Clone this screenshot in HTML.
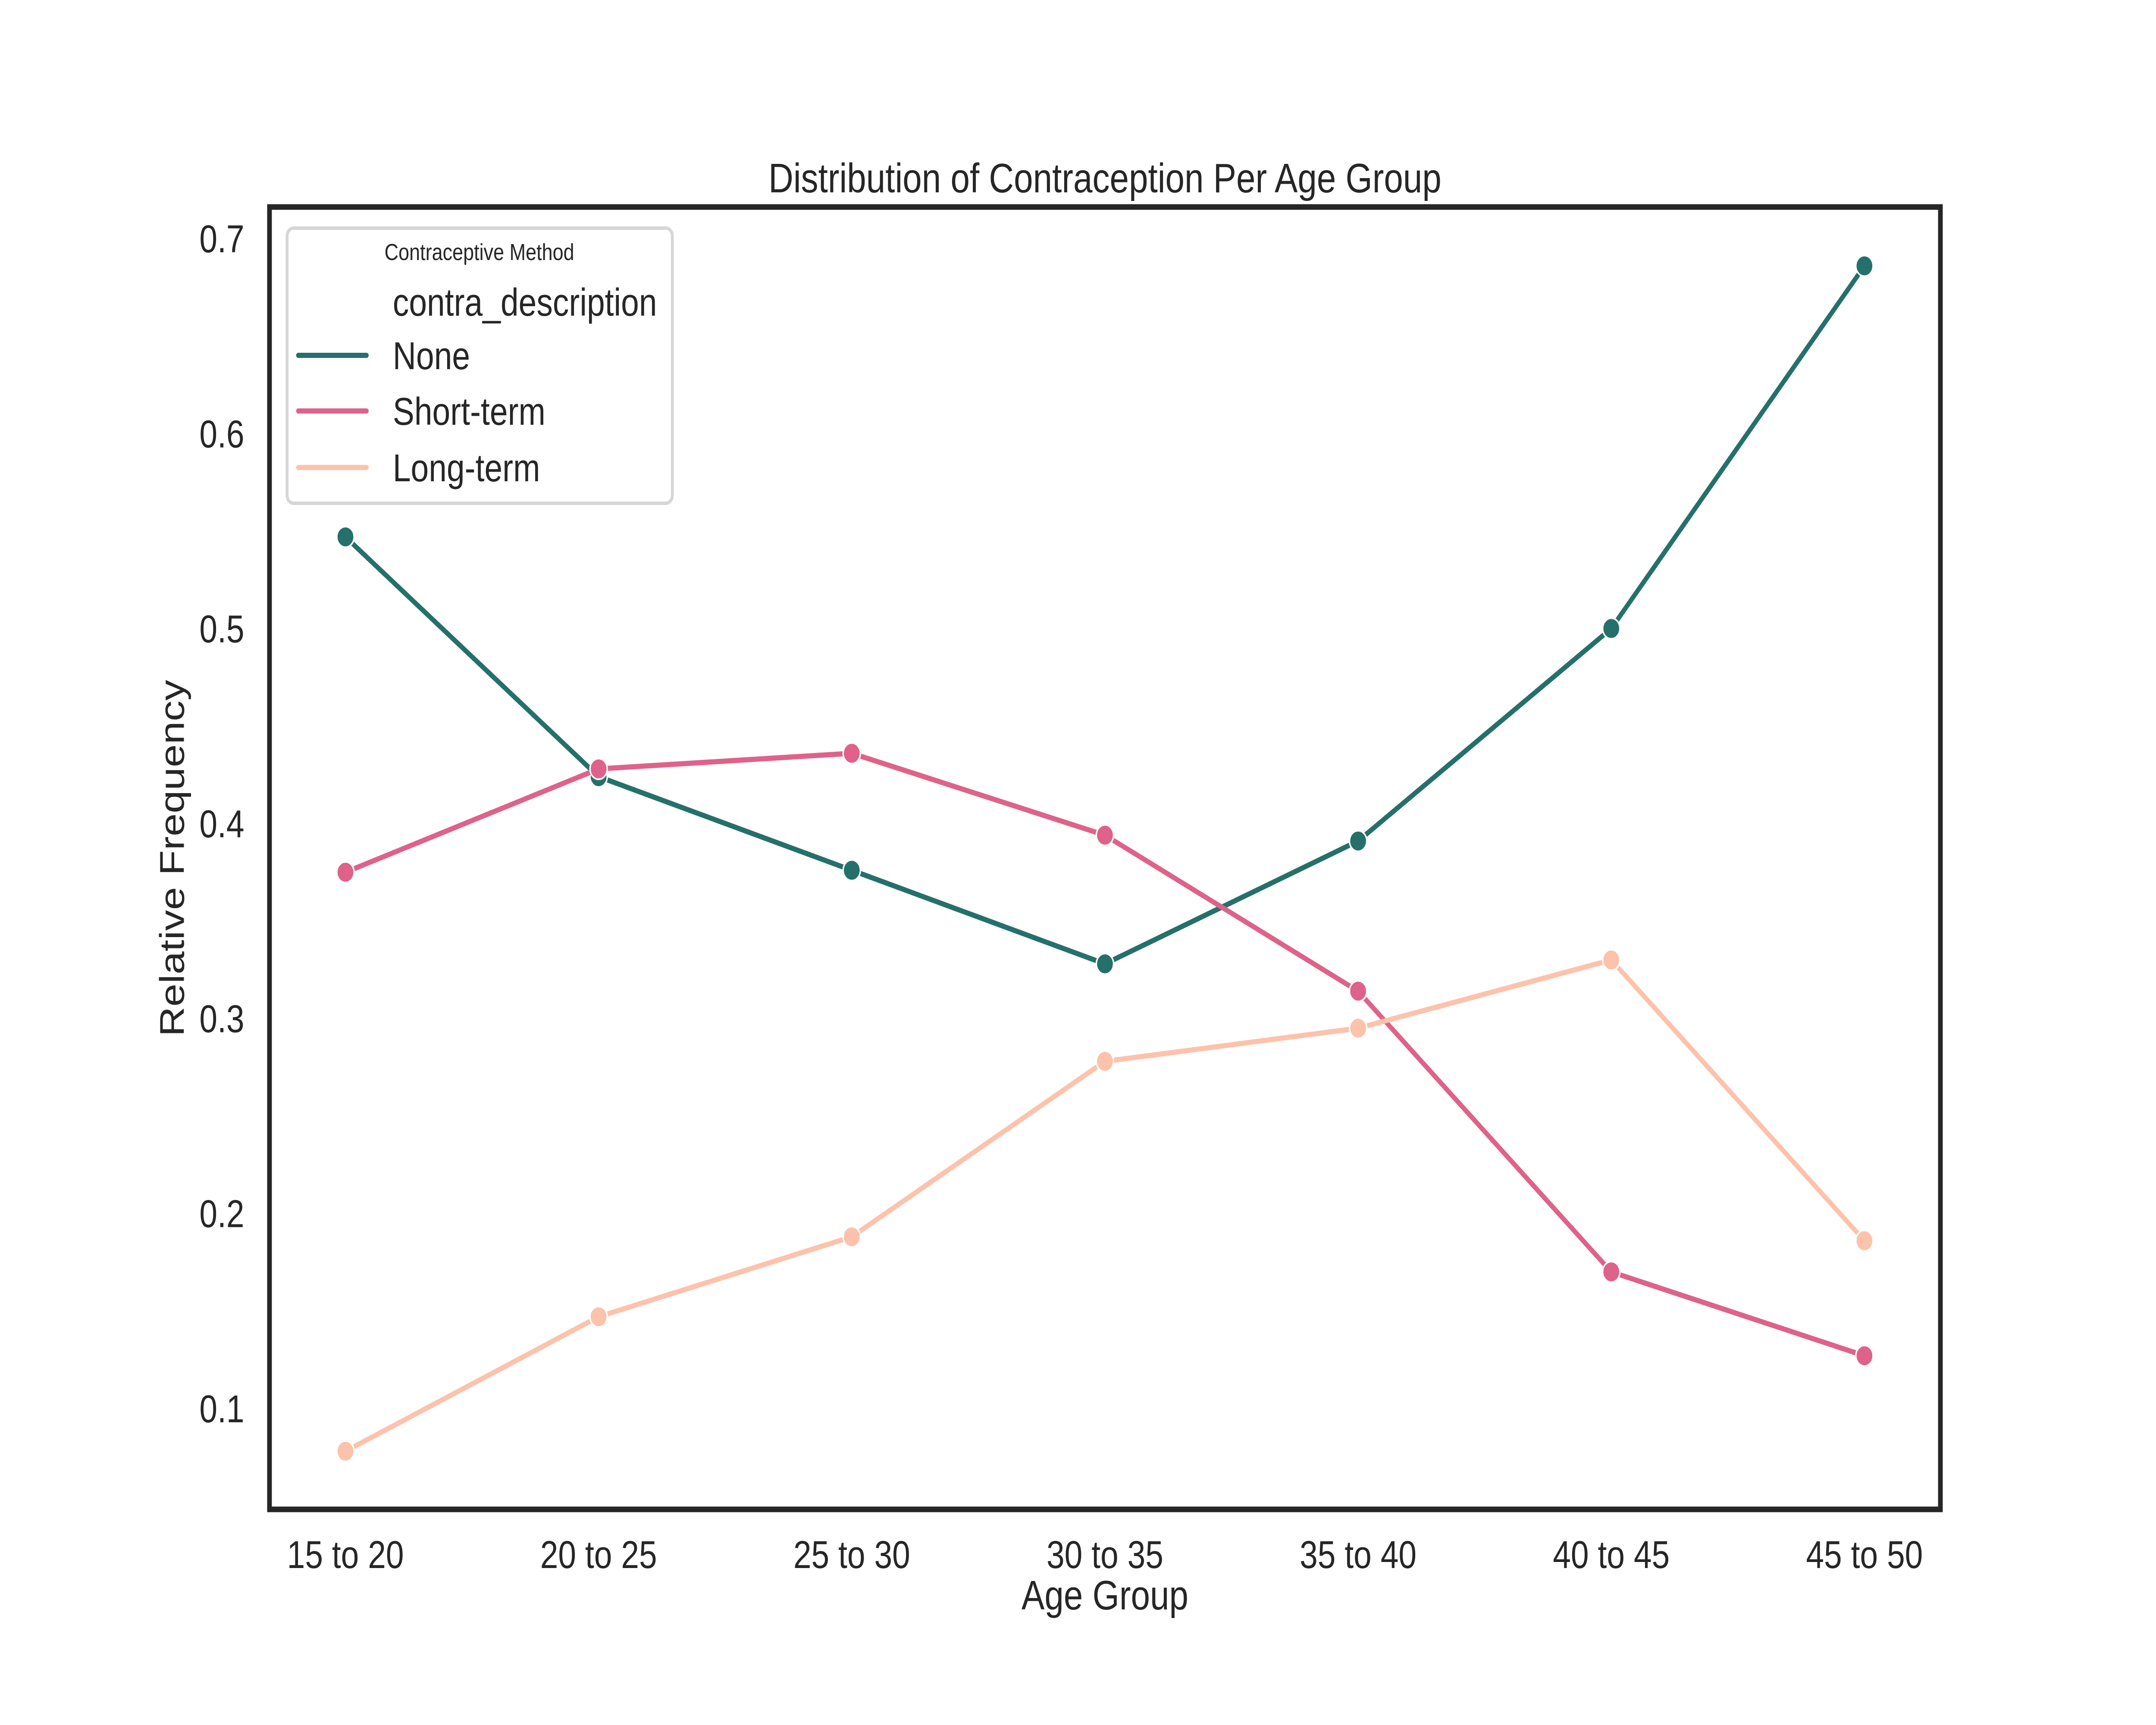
<!DOCTYPE html>
<html><head><meta charset="utf-8"><style>
html,body{margin:0;padding:0;background:#fff;width:100%;height:100%;overflow:hidden;}
svg{display:block;width:100vw;height:100vh;font-family:"Liberation Sans",Arial,sans-serif;}
</style></head><body>
<svg id="chart" viewBox="0 0 6000 4000" preserveAspectRatio="none" xmlns="http://www.w3.org/2000/svg">
<rect width="6000" height="4000" fill="#fff"/>
<text x="3075" y="446" font-size="96" text-anchor="middle" fill="#262626">Distribution of Contraception Per Age Group</text>
<g id="plot"></g>
<rect x="750" y="480" width="4650" height="3020" fill="none" stroke="#262626" stroke-width="13"/>
<g id="xticks"></g>
<g id="yticks"></g>
<text x="3075" y="3732" font-size="96" text-anchor="middle" fill="#262626">Age Group</text>
<text x="0" y="0" font-size="96" text-anchor="middle" fill="#262626" transform="translate(512,1990) rotate(-90)">Relative Frequency</text>
<g>
<rect x="799" y="529" width="1072" height="638" rx="18" fill="#fff" fill-opacity="0.8" stroke="#d6d6d6" stroke-width="8"/>
<text x="1334" y="603" font-size="54" text-anchor="middle" fill="#262626">Contraceptive Method</text>
<text x="1093" y="732" font-size="90" fill="#262626">contra_description</text>
<line x1="830" y1="824" x2="1020" y2="824" stroke="#25706b" stroke-width="12" stroke-linecap="round"/>
<text x="1093" y="856" font-size="90" fill="#262626">None</text>
<line x1="830" y1="953" x2="1020" y2="953" stroke="#de6289" stroke-width="12" stroke-linecap="round"/>
<text x="1093" y="985" font-size="90" fill="#262626">Short-term</text>
<line x1="830" y1="1084" x2="1020" y2="1084" stroke="#fdc2ab" stroke-width="12" stroke-linecap="round"/>
<text x="1093" y="1116" font-size="90" fill="#262626">Long-term</text>
</g>
</svg>
<script>
const categories = ["15 to 20","20 to 25","25 to 30","30 to 35","35 to 40","40 to 45","45 to 50"];
const noneValues = [0.547, 0.424, 0.376, 0.328, 0.391, 0.500, 0.686];
const shortTermValues = [0.375, 0.428, 0.436, 0.394, 0.314, 0.170, 0.127];
const longTermValues = [0.078, 0.147, 0.188, 0.278, 0.295, 0.330, 0.186];
const yTicks = [0.1, 0.2, 0.3, 0.4, 0.5, 0.6, 0.7];
const yTickLabels = ["0.1","0.2","0.3","0.4","0.5","0.6","0.7"];

const NS = "http://www.w3.org/2000/svg";
const AX = {l:750, r:5400, t:480, b:3500};
const xMin = -0.3, xMax = categories.length - 1 + 0.3;
const yMin = 0.0482, yMax = 0.7162;
function xScale(i){ return AX.l + (i - xMin) / (xMax - xMin) * (AX.r - AX.l); }
function yScale(v){ return AX.b - (v - yMin) / (yMax - yMin) * (AX.b - AX.t); }

const plot = document.getElementById('plot');
const series = [
  {name:'none', vals:noneValues, color:'#25706b'},
  {name:'short-term', vals:shortTermValues, color:'#de6289'},
  {name:'long-term', vals:longTermValues, color:'#fdc2ab'}
];
series.forEach(s => {
  const g = document.createElementNS(NS, 'g');
  
  
  const pl = document.createElementNS(NS, 'polyline');
  pl.setAttribute('points', s.vals.map((v,i) => xScale(i) + ',' + yScale(v)).join(' '));
  pl.setAttribute('fill', 'none');
  pl.setAttribute('stroke', s.color);
  pl.setAttribute('stroke-width', '12');
  pl.setAttribute('stroke-linejoin', 'round');
  pl.setAttribute('stroke-linecap', 'round');
  
  
  g.appendChild(pl);
  s.vals.forEach((v,i) => {
    const c = document.createElementNS(NS, 'circle');
    c.setAttribute('cx', xScale(i));
    c.setAttribute('cy', yScale(v));
    c.setAttribute('r', '24');
    c.setAttribute('fill', s.color);
    c.setAttribute('stroke', '#fff');
    c.setAttribute('stroke-width', '4');
    
    
    g.appendChild(c);
  });
  plot.appendChild(g);
});

const xt = document.getElementById('xticks');
categories.forEach((c,i) => {
  const t = document.createElementNS(NS, 'text');
  t.setAttribute('x', xScale(i));
  t.setAttribute('y', 3636);
  t.setAttribute('font-size', '90');
  t.setAttribute('text-anchor', 'middle');
  t.setAttribute('fill', '#262626');
  
  
  t.textContent = c;
  xt.appendChild(t);
});
const yt = document.getElementById('yticks');
yTicks.forEach((v,i) => {
  const t = document.createElementNS(NS, 'text');
  t.setAttribute('x', 680);
  t.setAttribute('y', yScale(v) + 32);
  t.setAttribute('font-size', '90');
  t.setAttribute('text-anchor', 'end');
  t.setAttribute('fill', '#262626');
  
  
  t.textContent = yTickLabels[i];
  yt.appendChild(t);
});
</script>
</body></html>
